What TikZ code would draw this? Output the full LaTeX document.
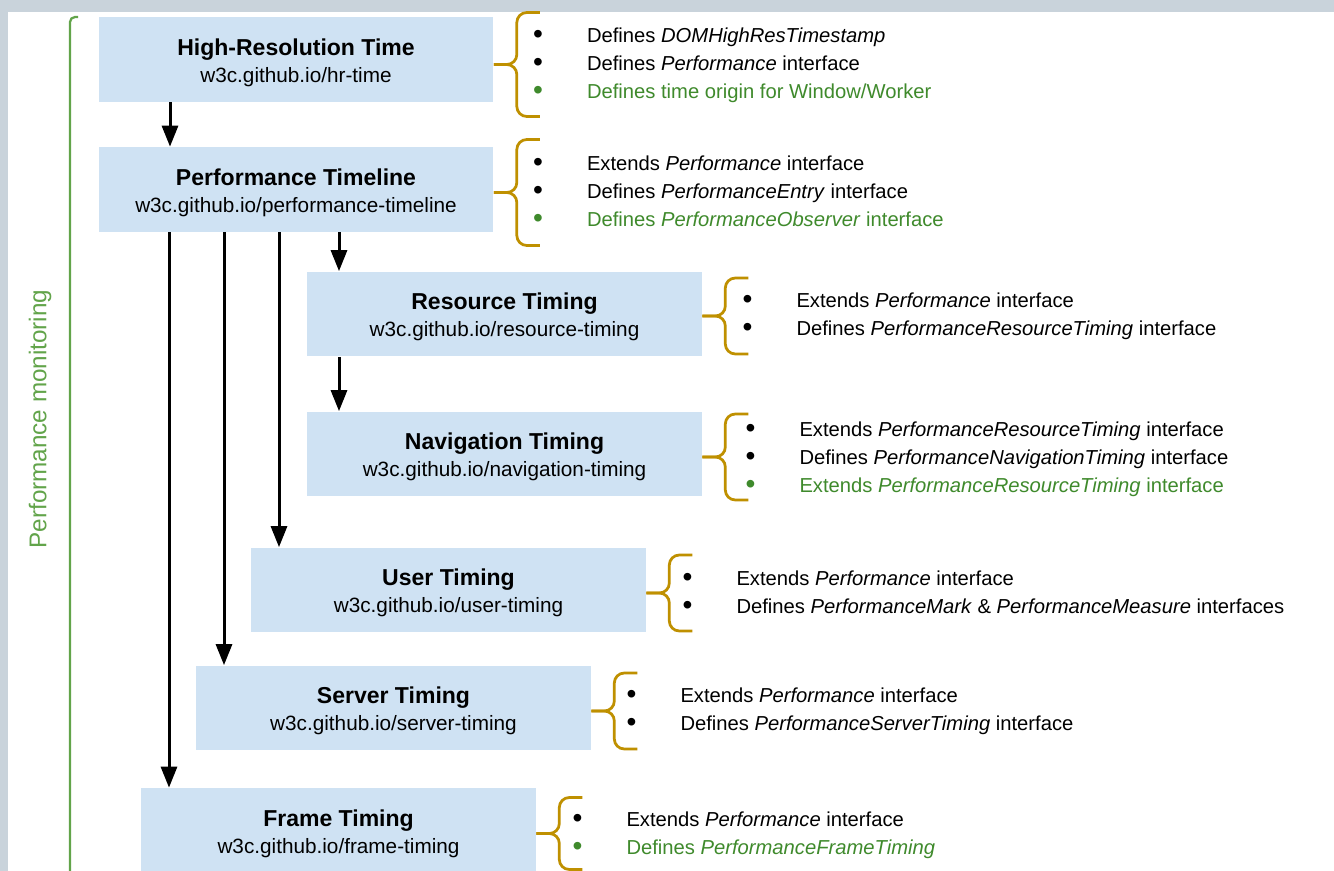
\documentclass[tikz,border=0pt]{standalone}
\usepackage{fontspec}
\setmainfont{Liberation Sans}
\usetikzlibrary{arrows.meta,positioning,calc}
\definecolor{boxblue}{HTML}{CFE2F3}
\definecolor{bracegold}{HTML}{BF9000}
\definecolor{mongreen}{HTML}{62A44A}
\definecolor{notegreen}{HTML}{3F8A2C}
\definecolor{framegray}{HTML}{C9D3DB}
\newcommand{\itemdot}{\raisebox{-0.6pt}{\fontsize{16}{16}\selectfont\textbullet}}

\begin{document}
\begin{tikzpicture}[x=0.02cm, y=-0.02cm,
    box/.style={fill=boxblue, minimum width=7.9cm, minimum height=1.7cm, inner sep=0pt,
      align=center, font=\fontsize{11.8}{15.4}\selectfont},
    items/.style={anchor=west, inner sep=0pt, font=\fontsize{11.5}{15.9}\selectfont},
    arr/.style={-{Triangle[length=0.42cm,width=0.32cm]}, line width=0.06cm},
    brc/.style={draw=bracegold, line width=0.055cm, rounded corners=0.2cm},
    pics/gbrace/.style={code={
      \draw[brc] (46,-#1) -- (23,-#1) -- (23,0) -- (0,0);
      \draw[brc] (46,#1) -- (23,#1) -- (23,0) -- (0,0);}}]
    \useasboundingbox (0,0) rectangle (1334,871);

    % Frame round the page
    \fill[framegray] (0,0) rectangle (1334,871);
    \fill[white] (8,12) rectangle (1334,871);

    % Performance monitoring bracket
    \draw[mongreen, line width=0.045cm, rounded corners=0.1cm] (78,17) -- (70,17) -- (70,880);
    \node[rotate=90, text=mongreen, font=\fontsize{13.8}{16}\selectfont] (monlabel) at (40,419) {Performance monitoring};

    % Specifications
    \node[box] (hrt) at (296,59.5) {\rule{0pt}{13pt}{\fontsize{13.1}{15.4}\selectfont\bfseries High-Resolution Time}\\ w3c.github.io/hr-time};
    \node[box] (pt) at (296,189.5) {\rule{0pt}{13pt}{\fontsize{13.1}{15.4}\selectfont\bfseries Performance Timeline}\\ w3c.github.io/performance-timeline};
    \node[box] (rt) at (504.5,314) {\rule{0pt}{13pt}{\fontsize{13.1}{15.4}\selectfont\bfseries Resource Timing}\\ w3c.github.io/resource-timing};
    \node[box] (nt) at (504.5,454) {\rule{0pt}{13pt}{\fontsize{13.1}{15.4}\selectfont\bfseries Navigation Timing}\\ w3c.github.io/navigation-timing};
    \node[box] (ut) at (448.5,590) {\rule{0pt}{13pt}{\fontsize{13.1}{15.4}\selectfont\bfseries User Timing}\\ w3c.github.io/user-timing};
    \node[box] (st) at (393.5,708) {\rule{0pt}{13pt}{\fontsize{13.1}{15.4}\selectfont\bfseries Server Timing}\\ w3c.github.io/server-timing};
    \node[box] (ft) at (338.5,830.5) {\rule{0pt}{13pt}{\fontsize{13.1}{15.4}\selectfont\bfseries Frame Timing}\\ w3c.github.io/frame-timing};

    % Dependencies
    \coordinate (c0) at (170,0);
    \coordinate (c1) at (169,0);
    \coordinate (c2) at (224,0);
    \coordinate (c3) at (279,0);
    \coordinate (c4) at (339,0);
    \draw[arr] (hrt.south -| c0) -- (pt.north -| c0);
    \draw[arr] (pt.south -| c1) -- (ft.north -| c1);
    \draw[arr] (pt.south -| c2) -- (st.north -| c2);
    \draw[arr] (pt.south -| c3) -- (ut.north -| c3);
    \draw[arr] (pt.south -| c4) -- (rt.north -| c4);
    \draw[arr] (rt.south -| c4) -- (nt.north -| c4);

    % Braces
    \pic at ($(hrt.east)+(0,5)$) {gbrace=52};
    \pic at ($(pt.east)+(0,3)$) {gbrace=53};
    \pic at ($(rt.east)+(0,2)$) {gbrace=38};
    \pic at ($(nt.east)+(0,3)$) {gbrace=43};
    \pic at ($(ut.east)+(0,3)$) {gbrace=38};
    \pic at ($(st.east)+(0,3)$) {gbrace=38};
    \pic at ($(ft.east)+(0,3)$) {gbrace=36};

    % What each one brings
    \node[items] (hrtitems) at ($(hrt.east)+(39,5.5)$) {\begin{tabular}{@{}l@{\hspace{0.88cm}}l@{}}
      \itemdot & Defines \textit{DOMHighResTimestamp}\\
      \itemdot & Defines \textit{Performance} interface\\
      \color{notegreen}\itemdot & \color{notegreen}Defines time origin for Window/Worker
    \end{tabular}};
    \node[items] (ptitems) at ($(pt.east)+(39,3)$) {\begin{tabular}{@{}l@{\hspace{0.88cm}}l@{}}
      \itemdot & Extends \textit{Performance} interface\\
      \itemdot & Defines \textit{PerformanceEntry} interface\\
      \color{notegreen}\itemdot & \color{notegreen}Defines \textit{PerformanceObserver} interface
    \end{tabular}};
    \node[items] (rtitems) at ($(rt.east)+(40,2)$) {\begin{tabular}{@{}l@{\hspace{0.88cm}}l@{}}
      \itemdot & Extends \textit{Performance} interface\\
      \itemdot & Defines \textit{PerformanceResourceTiming} interface
    \end{tabular}};
    \node[items] (ntitems) at ($(nt.east)+(43,5)$) {\begin{tabular}{@{}l@{\hspace{0.88cm}}l@{}}
      \itemdot & Extends \textit{PerformanceResourceTiming} interface\\
      \itemdot & Defines \textit{PerformanceNavigationTiming} interface\\
      \color{notegreen}\itemdot & \color{notegreen}Extends \textit{PerformanceResourceTiming} interface
    \end{tabular}};
    \node[items] (utitems) at ($(ut.east)+(36,4)$) {\begin{tabular}{@{}l@{\hspace{0.88cm}}l@{}}
      \itemdot & Extends \textit{Performance} interface\\
      \itemdot & Defines \textit{PerformanceMark} \& \textit{PerformanceMeasure} interfaces
    \end{tabular}};
    \node[items] (stitems) at ($(st.east)+(35,3)$) {\begin{tabular}{@{}l@{\hspace{0.88cm}}l@{}}
      \itemdot & Extends \textit{Performance} interface\\
      \itemdot & Defines \textit{PerformanceServerTiming} interface
    \end{tabular}};
    \node[items] (ftitems) at ($(ft.east)+(36,4.5)$) {\begin{tabular}{@{}l@{\hspace{0.88cm}}l@{}}
      \itemdot & Extends \textit{Performance} interface\\
      \color{notegreen}\itemdot & \color{notegreen}Defines \textit{PerformanceFrameTiming}
    \end{tabular}};
\end{tikzpicture}
\end{document}
